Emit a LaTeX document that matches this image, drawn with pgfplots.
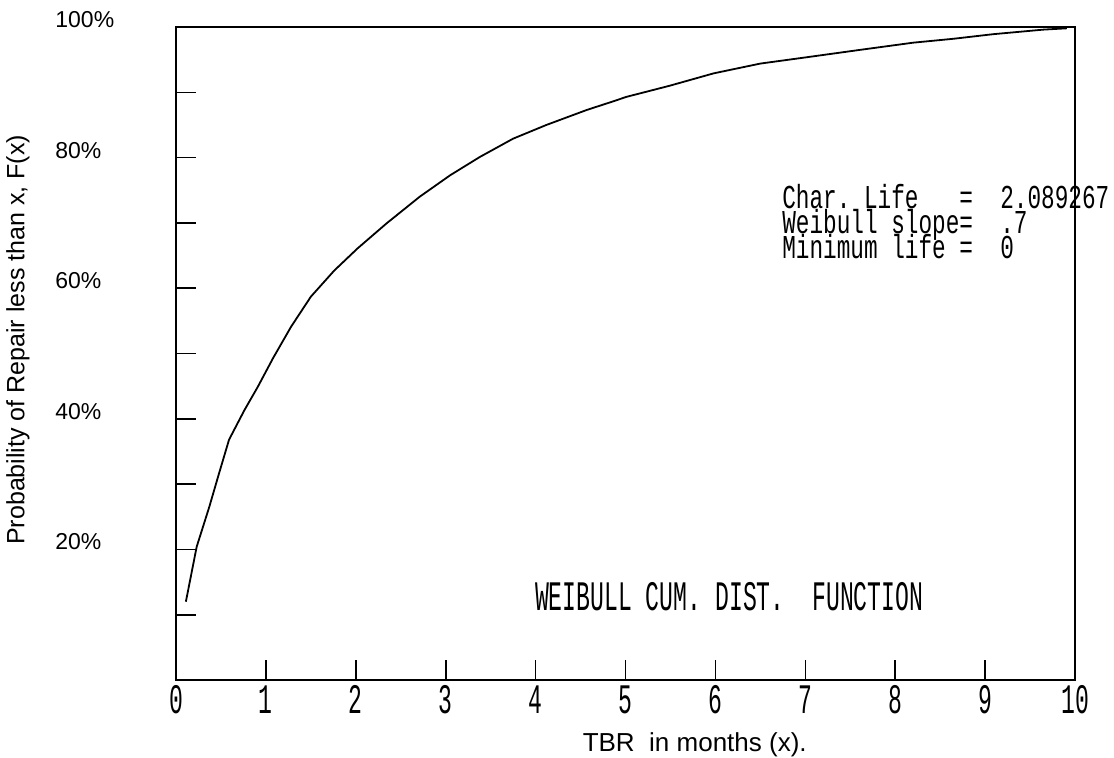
\documentclass[border=0pt]{standalone}
\usepackage{fontspec}
\setmainfont{Liberation Sans}
\newfontfamily\dotbig[FakeStretch=0.55]{Liberation Mono}
\newfontfamily\dotsmall[FakeStretch=0.68]{Liberation Mono}
\usepackage{pgfplots}
\pgfplotsset{compat=1.18}
\begin{document}
\begin{tikzpicture}
\useasboundingbox (0,0) rectangle (557pt,378.5pt);
\begin{axis}[
  at={(88pt,38.5pt)}, anchor=south west,
  scale only axis, width=449.5pt, height=326.5pt,
  xmin=0, xmax=10, ymin=0, ymax=100,
  axis line style={line width=1pt},
  tick align=inside, xtick pos=bottom, ytick pos=left,
  major tick length=10pt,
  every tick/.style={black, line width=0.8pt},
  xtick={0,1,2,3,4,5,6,7,8,9,10},
  xticklabels={0,1,2,3,4,5,6,7,8,9,10},
  ytick={10,20,30,40,50,60,70,80,90,100},
  yticklabels={,20\%,,40\%,,60\%,,80\%,,100\%},
  xticklabel style={font=\dotbig\fontsize{21}{21}\selectfont, inner sep=0pt, anchor=north, yshift=-2.5pt},
  yticklabel style={font=\fontsize{11.5}{12}\selectfont, inner sep=0pt, anchor=west, xshift=-60.5pt, yshift=3.75pt},
  clip=false,
]
\addplot[black, line width=0.9pt] coordinates {
(0.11,12.0) (0.23,20.4) (0.37,26.5) (0.48,31.7) (0.59,36.8) (0.76,41.3)
(0.91,44.9) (1.08,49.3) (1.28,54.1) (1.50,58.7) (1.76,62.7) (2.02,66.1)
(2.34,69.9) (2.71,74.0) (3.05,77.3) (3.38,80.1) (3.75,82.9) (4.12,85.0)
(4.57,87.3) (4.86,88.6) (5.01,89.3) (5.49,91.0) (5.98,92.9) (6.50,94.4)
(6.98,95.3) (7.61,96.5) (8.20,97.6) (8.65,98.2) (9.09,98.9) (9.65,99.6)
(9.91,99.8)
};
\node[rotate=90, font=\fontsize{12.5}{13}\selectfont] at ([xshift=-79pt]rel axis cs:0,0.521) {Probability of Repair less than x, F(x)};
\node[font=\fontsize{13}{14}\selectfont] at ([yshift=-32.5pt]rel axis cs:0.577,0) {TBR\ \ in months (x).};
\node[anchor=base west, inner sep=0pt, font=\dotsmall\fontsize{16.7}{16.7}\selectfont] at (rel axis cs:0.674,0.7228) {Char.~Life~~~=~~2.089267};
\node[anchor=base west, inner sep=0pt, font=\dotsmall\fontsize{16.7}{16.7}\selectfont] at (rel axis cs:0.674,0.6845) {Weibull~slope=~~.7};
\node[anchor=base west, inner sep=0pt, font=\dotsmall\fontsize{16.7}{16.7}\selectfont] at (rel axis cs:0.674,0.6462) {Minimum~life~=~~0};
\node[anchor=base west, inner sep=0pt, font=\dotbig\fontsize{21}{21}\selectfont] at (rel axis cs:0.399,0.107) {WEIBULL CUM. DIST.~~FUNCTION};
\end{axis}
\end{tikzpicture}
\end{document}
